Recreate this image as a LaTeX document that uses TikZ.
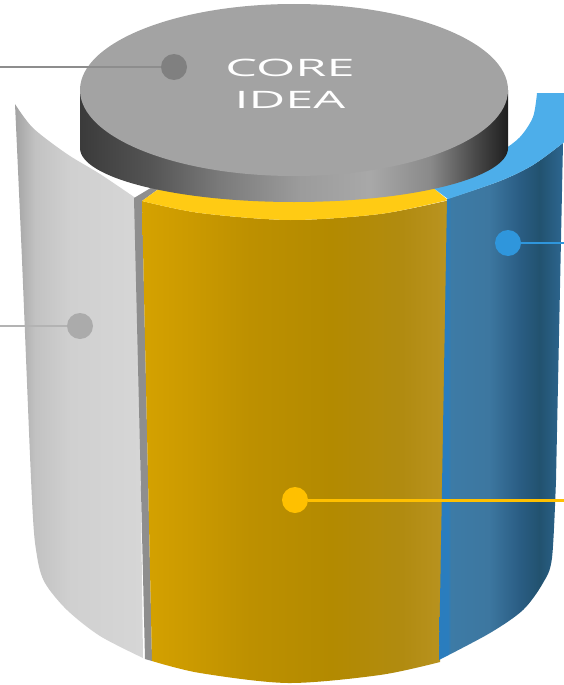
\documentclass[tikz,border=0pt]{standalone}
\usepackage{fontspec}
\newfontfamily\corefont{Open Sans}

\definecolor{discface}{HTML}{A3A3A3}
\definecolor{yellowtop}{HTML}{FFCB14}
\definecolor{bluetop}{HTML}{4DAEEA}
\definecolor{segedge}{HTML}{8E8E8E}
\definecolor{coregray}{HTML}{808080}
\definecolor{sidegray}{HTML}{ABABAB}
\definecolor{dotblue}{HTML}{2F96DC}
\definecolor{dotyellow}{HTML}{FFC000}

% side shadings (the middle 50bp is stretched over the path)
\pgfdeclarehorizontalshading{discside}{100bp}{
  color(0bp)=(black!77); color(25bp)=(black!77); color(33.2bp)=(black!67);
  color(41.4bp)=(black!52); color(50.7bp)=(black!39); color(58.9bp)=(black!34);
  color(65.9bp)=(black!46); color(71.1bp)=(black!71); color(75bp)=(black!88);
  color(100bp)=(black!88)}
\pgfdeclarehorizontalshading{grayside}{100bp}{
  rgb(0bp)=(0.64,0.64,0.64); rgb(25bp)=(0.64,0.64,0.64); rgb(32.8bp)=(0.76,0.76,0.76);
  rgb(46.5bp)=(0.815,0.815,0.815); rgb(75bp)=(0.84,0.84,0.84); rgb(100bp)=(0.84,0.84,0.84)}
\pgfdeclarehorizontalshading{yellowside}{100bp}{
  rgb(0bp)=(0.835,0.635,0); rgb(25bp)=(0.835,0.635,0); rgb(32.8bp)=(0.796,0.604,0);
  rgb(42.6bp)=(0.741,0.565,0); rgb(55.7bp)=(0.702,0.541,0); rgb(67.2bp)=(0.694,0.545,0.063);
  rgb(75bp)=(0.729,0.580,0.133); rgb(100bp)=(0.729,0.580,0.133)}
\pgfdeclarehorizontalshading{blueside}{100bp}{
  rgb(0bp)=(0.165,0.490,0.745); rgb(25bp)=(0.165,0.490,0.745); rgb(28.6bp)=(0.165,0.490,0.745);
  rgb(29.8bp)=(0.239,0.482,0.651); rgb(45bp)=(0.239,0.467,0.627); rgb(57.4bp)=(0.165,0.365,0.518);
  rgb(65.5bp)=(0.133,0.322,0.435); rgb(75bp)=(0.176,0.400,0.565); rgb(100bp)=(0.176,0.400,0.565)}

\begin{document}
\begin{tikzpicture}[x=1pt, y=-1pt,
    dot/.style={circle, fill=#1, minimum size=26pt, inner sep=0pt},
    lead/.style={line width=2.5pt, draw=#1},
    coretext/.style={text=white, font=\corefont\fontsize{24}{29}\selectfont, xscale=2.1, inner sep=0pt, anchor=base},
  ]
  \useasboundingbox (0,0) rectangle (564,685);

  % === left segment ===
  \shade[shading=grayside] (15,104) -- plot[smooth] coordinates {(15,104) (22,260) (32,500) (37,556) (45,583) (67,610) (100,636) (143,658)}
    -- (137,199) -- plot[smooth] coordinates {(137,199) (100,174) (67,154) (33,128) (15,104)} -- cycle;
  \fill[segedge] (134,198) -- (154,186) -- (161,187) -- (142,201) -- (152,661) -- (145,659) -- cycle;

  % === middle segment ===
  \shade[shading=yellowside] (142,201) -- (152,661) -- plot[smooth] coordinates {(152,661) (200,673) (288,683) (380,675) (440,662)}
    -- (450,200) -- plot[smooth] coordinates {(450,200) (380,214) (290,220) (200,213) (142,201)} -- cycle;
  \fill[yellowtop] (142,201) -- (160,188) -- plot[smooth] coordinates {(160,188) (220,196) (290,201) (360,197) (432,187)}
    -- (448,200) -- plot[smooth] coordinates {(448,200) (380,214) (290,220) (200,213) (142,201)} -- cycle;

  % === right segment ===
  \shade[shading=blueside] (447,199) -- (439,660) -- plot[smooth] coordinates {(439,660) (490,633) (523,610) (543,583) (552,558) (556,480)}
    -- (563,143) -- plot[smooth] coordinates {(563,143) (533,165) (500,181) (447,199)} -- cycle;
  \fill[bluetop] (432,187) -- plot[smooth] coordinates {(432,187) (467,169) (500,152) (520,137) (533,117) (537,93)}
    -- (566,93) -- (566,141) -- plot[smooth] coordinates {(563,143) (533,165) (500,181) (448,199)} -- cycle;

  % === core disc ===
  \shade[shading=discside] (294,148) ellipse [x radius=214pt, y radius=54pt] (80,90) rectangle (508,148);
  \fill[discface] (294,90) ellipse [x radius=214pt, y radius=86pt];
  \node[coretext] (core) at (290,77) {CORE};
  \node[coretext] (idea) at (290,108) {IDEA};

  % === callouts ===
  \coordinate (coreend) at (0,67);
  \coordinate (grayend) at (0,326);
  \coordinate (blueend) at (564,243);
  \coordinate (yellowend) at (564,500);
  \node[dot=coregray] (coredot) at (174,67) {};
  \node[dot=sidegray] (graydot) at (80,326) {};
  \node[dot=dotblue] (bluedot) at (508,243) {};
  \node[dot=dotyellow] (yellowdot) at (295,500) {};
  \draw[lead=coregray!90!white] (coreend) -- (coredot);
  \draw[lead=sidegray!90!white] (grayend) -- (graydot);
  \draw[lead=dotblue] (bluedot) -- (blueend);
  \draw[lead=dotyellow, line width=3pt] (yellowdot) -- (yellowend);
\end{tikzpicture}
\end{document}
